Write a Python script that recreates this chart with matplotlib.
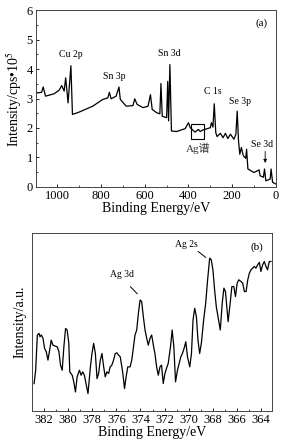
import matplotlib
matplotlib.use("Agg")
from matplotlib import pyplot as plt
from matplotlib.patches import Rectangle
from matplotlib.ticker import MultipleLocator

# survey spectrum (a): binding energy / eV, intensity / 1e5 cps
be_survey = [1108, 1092, 1072, 1065, 1054, 1015, 992, 980, 969, 962, 951, 938, 931,
             900, 838, 792, 769, 762, 754, 731, 718, 712, 685, 654, 646, 635, 608,
             585, 574, 566, 546, 531, 526, 520, 500, 495, 491, 485, 478, 454, 415,
             400, 392, 370, 355, 346, 335, 300, 295, 288, 282, 275, 269, 254, 242,
             231, 220, 208, 192, 183, 177, 171, 165, 158, 149, 138, 134, 128, 100,
             77, 72, 57, 52, 46, 26, 22, 15, 0]
i_survey = [3.30, 3.19, 3.21, 3.39, 3.08, 3.16, 3.28, 3.44, 3.25, 3.70, 2.85, 4.11, 2.46,
            2.54, 2.74, 2.97, 3.02, 3.21, 2.99, 3.08, 3.39, 2.97, 2.74, 2.76, 2.99, 2.80, 2.69,
            2.74, 3.13, 2.63, 2.52, 2.48, 3.51, 2.40, 2.35, 3.58, 2.24, 4.15, 1.90, 1.88, 1.98,
            2.18, 2.01, 1.86, 1.95, 1.88, 1.93, 2.01, 2.18, 2.03, 2.82, 1.84, 1.71, 1.82, 1.67,
            1.82, 1.64, 1.79, 1.62, 1.79, 2.57, 1.56, 1.11, 1.34, 1.06, 0.97, 1.28, 0.61, 0.49,
            0.58, 0.38, 0.33, 0.61, 0.21, 0.27, 0.61, 0.16, 0.10]

# Ag region (b): binding energy / eV, intensity / a.u.
be_ag = [382.82, 382.69, 382.55, 382.41, 382.33, 382.22, 382.08, 381.95, 381.81, 381.67,
         381.53, 381.40, 381.26, 381.09, 380.90, 380.76, 380.63, 380.49, 380.35, 380.21,
         380.08, 379.94, 379.86, 379.66, 379.53, 379.39, 379.25, 379.06, 378.92, 378.79,
         378.65, 378.51, 378.35, 378.15, 378.02, 377.88, 377.74, 377.60, 377.47, 377.33,
         377.19, 377.05, 376.92, 376.78, 376.64, 376.51, 376.37, 376.23, 376.09, 375.96,
         375.82, 375.68, 375.54, 375.46, 375.32, 375.19, 375.05, 374.86, 374.72, 374.58,
         374.45, 374.31, 374.17, 374.03, 373.90, 373.76, 373.62, 373.48, 373.35, 373.21,
         373.07, 372.93, 372.80, 372.66, 372.52, 372.38, 372.25, 372.11, 371.97, 371.84,
         371.70, 371.51, 371.37, 371.23, 371.09, 370.93, 370.79, 370.65, 370.52, 370.38,
         370.24, 370.10, 369.91, 369.77, 369.64, 369.50, 369.36, 369.23, 369.09, 368.95,
         368.76, 368.59, 368.43, 368.26, 368.13, 367.99, 367.85, 367.71, 367.52, 367.38,
         367.22, 367.08, 366.95, 366.84, 366.73, 366.56, 366.42, 366.26, 366.12, 365.98,
         365.85, 365.65, 365.52, 365.38, 365.24, 365.10, 364.97, 364.83, 364.69, 364.56,
         364.42, 364.28, 364.14, 364.01, 363.87, 363.73, 363.59, 363.46, 363.32, 363.18]
i_ag = [15.4, 22.9, 42.7, 43.6, 41.7, 42.7, 40.8, 35.2, 33.3, 28.6,
        34.2, 39.8, 37.0, 36.5, 36.1, 33.3, 25.8, 22.9, 36.1, 46.4,
        45.5, 38.0, 22.0, 20.1, 16.4, 10.7, 19.2, 22.9, 20.1, 22.0,
        20.1, 15.4, 9.8, 24.8, 32.3, 38.0, 32.3, 18.2, 21.1, 28.6,
        32.3, 24.8, 19.2, 22.0, 21.1, 24.8, 25.8, 28.6, 32.3, 32.7,
        31.4, 30.5, 24.8, 21.1, 12.6, 19.2, 24.8, 24.8, 28.6, 36.1,
        42.7, 45.5, 54.9, 62.4, 61.5, 53.0, 45.5, 40.8, 37.0, 40.8,
        42.7, 37.0, 32.3, 24.8, 20.1, 24.8, 25.8, 15.4, 21.1, 23.9,
        26.7, 36.1, 45.5, 36.1, 16.4, 22.9, 26.7, 30.5, 32.3, 35.2,
        38.9, 30.5, 24.8, 32.3, 51.1, 57.7, 53.0, 39.8, 32.3, 38.0,
        51.1, 60.5, 73.7, 85.9, 85.0, 79.3, 68.0, 58.6, 51.1, 45.5,
        60.5, 69.0, 67.1, 58.6, 50.2, 60.5, 69.9, 69.9, 64.3, 71.8,
        73.7, 72.7, 71.8, 67.1, 67.1, 73.7, 77.4, 79.3, 80.3, 81.2,
        80.3, 82.1, 83.5, 78.4, 82.1, 84.0, 81.2, 79.3, 84.0, 84.0]

plt.rcParams['font.family'] = ['Liberation Serif', 'Noto Sans CJK SC']
plt.rcParams['mathtext.fontset'] = 'stix'
plt.rcParams['xtick.direction'] = 'in'
plt.rcParams['ytick.direction'] = 'in'

fig = plt.figure(figsize=(2.85, 4.45), dpi=100)
ax1 = fig.add_axes([0.1246, 0.5798, 0.8434, 0.3977])
ax2 = fig.add_axes([0.112, 0.0764, 0.842, 0.4])

# ---- (a) survey
ax1.plot(be_survey, i_survey, color='black', lw=0.9)
ax1.set_xlim(1100, 0)
ax1.set_ylim(0, 6)
ax1.xaxis.set_major_locator(MultipleLocator(200))
ax1.xaxis.set_minor_locator(MultipleLocator(100))
ax1.yaxis.set_major_locator(MultipleLocator(1))
ax1.yaxis.set_minor_locator(MultipleLocator(0.5))
ax1.tick_params(labelsize=9, length=2.5, width=0.6, pad=2)
ax1.tick_params(which='minor', length=1.5, width=0.5)
ax1.set_xlabel('Binding Energy/eV', fontsize=10, labelpad=0)
ax1.set_ylabel('Intensity/cps•10$^5$', fontsize=10, labelpad=2)

fs = 7
ax1.text(938, 4.48, 'Cu 2p', fontsize=fs, ha='center', va='center')
ax1.text(738, 3.76, 'Sn 3p', fontsize=fs, ha='center', va='center')
ax1.text(488, 4.54, 'Sn 3d', fontsize=fs, ha='center', va='center')
ax1.text(288, 3.25, 'C 1s', fontsize=fs, ha='center', va='center')
ax1.text(162, 2.91, 'Se 3p', fontsize=fs, ha='center', va='center')
ax1.text(62, 1.45, 'Se 3d', fontsize=fs, ha='center', va='center')
ax1.annotate('', xy=(49, 0.72), xytext=(49, 1.3),
             arrowprops=dict(arrowstyle='-|>', lw=0.6, color='black',
                             mutation_scale=5))
ax1.add_patch(Rectangle((328, 1.63), 60, 0.5, fill=False, lw=0.8, ec='black'))
ax1.text(354, 1.3, 'Ag谱', fontsize=8, ha='center', va='center', color='#333333')
ax1.text(0.965, 0.95, '(a)', transform=ax1.transAxes, fontsize=8,
         ha='right', va='top')

# ---- (b) Ag region
ax2.plot(be_ag, i_ag, color='black', lw=0.9)
ax2.set_xlim(383, 363.1)
ax2.set_ylim(0, 100)
ax2.xaxis.set_major_locator(MultipleLocator(2))
ax2.xaxis.set_minor_locator(MultipleLocator(1))
ax2.set_yticks([])
ax2.tick_params(labelsize=9, length=2.5, width=0.6, pad=2)
ax2.tick_params(which='minor', length=1.5, width=0.5)
ax2.set_xlabel('Binding Energy/eV', fontsize=10, labelpad=0)
ax2.set_ylabel('Intensity/a.u.', fontsize=10, labelpad=4)

ax2.text(375.5, 76.5, 'Ag 3d', fontsize=fs, ha='center', va='center')
ax2.annotate('', xy=(374.1, 64.7), xytext=(375.0, 71.0),
             arrowprops=dict(arrowstyle='-', lw=0.7, color='black'))
ax2.text(370.2, 93.4, 'Ag 2s', fontsize=fs, ha='center', va='center')
ax2.annotate('', xy=(368.4, 85.3), xytext=(369.4, 90.6),
             arrowprops=dict(arrowstyle='-', lw=0.7, color='black'))
ax2.text(0.965, 0.95, '(b)', transform=ax2.transAxes, fontsize=8,
         ha='right', va='top')

for ax in (ax1, ax2):
    for s in ax.spines.values():
        s.set_linewidth(0.7)
        s.set_color('#444444')

fig.savefig('out.png', dpi=100)
